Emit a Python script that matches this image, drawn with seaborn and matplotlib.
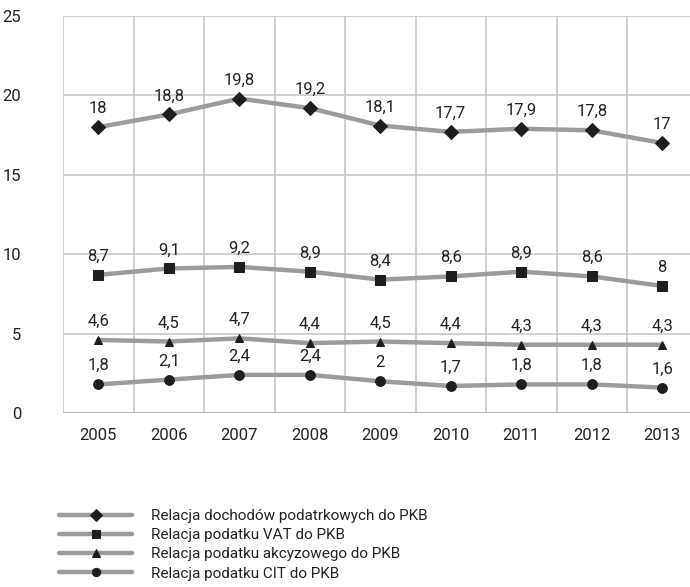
import matplotlib
matplotlib.use("Agg")
import matplotlib.pyplot as plt
import seaborn as sns
import pandas as pd

years = ["2005", "2006", "2007", "2008", "2009", "2010", "2011", "2012", "2013"]
tax_revenue = [18, 18.8, 19.8, 19.2, 18.1, 17.7, 17.9, 17.8, 17]
vat = [8.7, 9.1, 9.2, 8.9, 8.4, 8.6, 8.9, 8.6, 8]
excise = [4.6, 4.5, 4.7, 4.4, 4.5, 4.4, 4.3, 4.3, 4.3]
cit = [1.8, 2.1, 2.4, 2.4, 2, 1.7, 1.8, 1.8, 1.6]

series_names = [
    "Relacja dochodów podatrkowych do PKB",
    "Relacja podatku VAT do PKB",
    "Relacja podatku akcyzowego do PKB",
    "Relacja podatku CIT do PKB",
]
series_values = [tax_revenue, vat, excise, cit]
markers = ["D", "s", "^", "o"]
marker_sizes = [7, 7, 6, 7]
y_ticks = [0, 5, 10, 15, 20, 25]

sns.set_theme(style="white")
plt.rcParams["font.family"] = ["Roboto", "DejaVu Sans"]

grid_col = "#c8c8c8"
line_col = "#9b9b9b"
mark_col = "#1e1e1e"
text_col = "#222222"

fig = plt.figure(figsize=(6.9, 5.87), dpi=100)
W, H = 690, 587
ax = fig.add_axes([63 / W, 1 - 413 / H, (W - 63) / W, (413 - 16) / H])

step = 70.5
ax.set_xlim(-0.5, -0.5 + (W - 63) / step)
ax.set_ylim(0, 25)

# vertical separators between years
for b in [i - 0.5 for i in range(len(years) + 1)]:
    ax.axvline(b, color=grid_col, lw=1.2, zorder=0)
for yv in y_ticks[1:]:
    ax.axhline(yv, color=grid_col, lw=1.2, zorder=0)
ax.axhline(0, color="#b4b4b4", lw=2, zorder=0)

x = list(range(len(years)))
for name, vals, mk, ms in zip(series_names, series_values, markers, marker_sizes):
    df = pd.DataFrame({"x": x, "y": vals})
    sns.lineplot(data=df, x="x", y="y", ax=ax, color=line_col, lw=3.2,
                 marker=mk, markersize=ms, markerfacecolor=mark_col,
                 markeredgecolor=mark_col, label=name, zorder=3)
    for xi, v in zip(x, vals):
        txt = (f"{v:g}").replace(".", ",")
        ax.annotate(txt, (xi, v), xytext=(0, 8), textcoords="offset points",
                    ha="center", va="bottom", fontsize=12, color=text_col)

for s in ax.spines.values():
    s.set_visible(False)

ax.set_xticks(x)
ax.set_xticklabels(years)
ax.set_yticks(y_ticks)
ax.set_yticklabels([str(t) for t in y_ticks])
ax.tick_params(axis="x", length=0, pad=11, labelsize=12, labelcolor=text_col)
ax.tick_params(axis="y", length=6, width=1.2, color=grid_col, pad=24,
               labelsize=12, labelcolor=text_col)
ax.set_xlabel("")
ax.set_ylabel("")

leg = ax.legend(loc="upper left", bbox_to_anchor=(59 / W, 1 - 509 / H),
                bbox_transform=fig.transFigure, frameon=False, fontsize=11,
                handlelength=4.8, handletextpad=1.2, labelspacing=0.34,
                borderaxespad=0, borderpad=0, markerscale=0.85)
for t in leg.get_texts():
    t.set_color(text_col)

fig.savefig("out.png", dpi=100)
